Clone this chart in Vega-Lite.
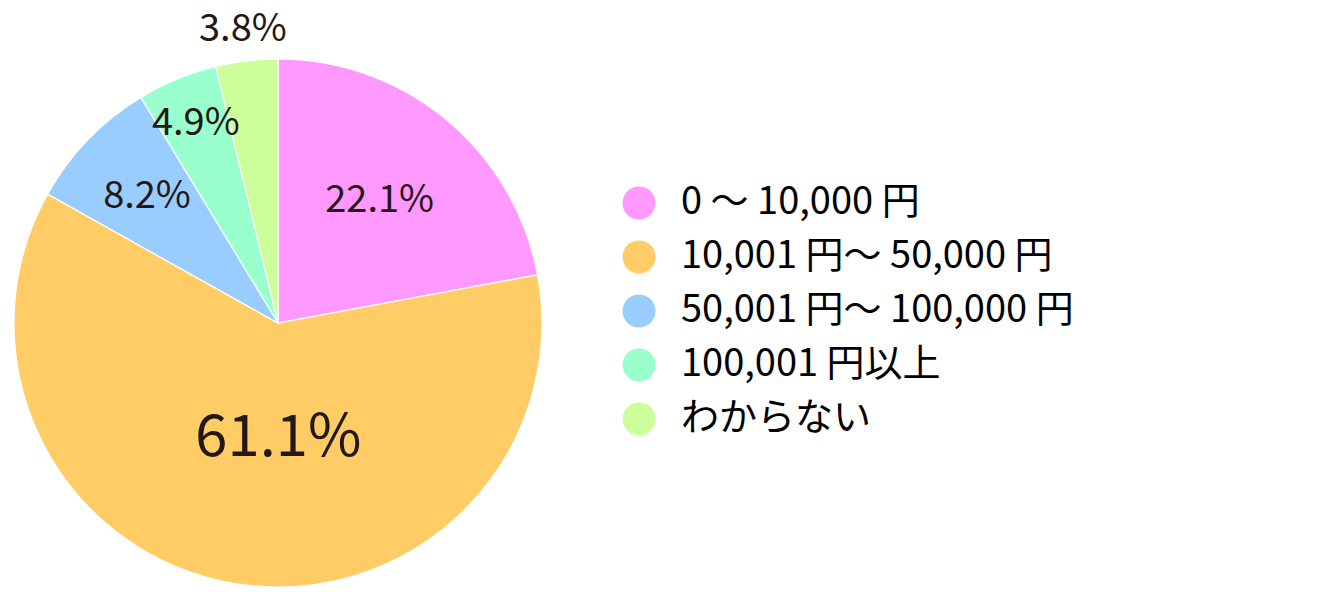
{
  "$schema": "https://vega.github.io/schema/vega-lite/v6.json",
  "width": 556,
  "height": 592,
  "autosize": {"type": "none"},
  "padding": {"left": 0, "top": 27, "right": 761, "bottom": 0},
  "background": "white",
  "data": {
    "values": [
      {"idx": 1, "category": "0 〜 10,000 円", "value": 22.1},
      {"idx": 2, "category": "10,001 円〜 50,000 円", "value": 61.1},
      {"idx": 3, "category": "50,001 円〜 100,000 円", "value": 8.2},
      {"idx": 4, "category": "100,001 円以上", "value": 4.9},
      {"idx": 5, "category": "わからない", "value": 3.8}
    ]
  },
  "transform": [
    {"calculate": "format(datum.value, '.1f') + '%'", "as": "label"}
  ],
  "encoding": {
    "theta": {"field": "value", "type": "quantitative", "stack": true},
    "order": {"field": "idx", "type": "quantitative"}
  },
  "layer": [
    {
      "mark": {"type": "arc", "radius": 264, "stroke": "white", "strokeWidth": 1.2},
      "encoding": {
        "color": {
          "field": "category",
          "type": "nominal",
          "scale": {
            "domain": ["0 〜 10,000 円", "10,001 円〜 50,000 円", "50,001 円〜 100,000 円", "100,001 円以上", "わからない"],
            "range": ["#FF99FF", "#FFCC66", "#99CCFF", "#99FFCC", "#CCFF99"]
          },
          "legend": {
            "title": null,
            "orient": "none",
            "legendX": 620,
            "legendY": 157,
            "symbolType": "circle",
            "symbolSize": 1089,
            "symbolStrokeWidth": 0,
            "labelFont": "Noto Sans CJK JP",
            "labelFontSize": 38,
            "labelColor": "#000000",
            "labelOffset": 23,
            "labelLimit": 600,
            "rowPadding": 16
          }
        }
      }
    },
    {
      "mark": {"type": "text", "radius": 159, "fontSize": 38, "font": "Noto Sans CJK JP", "color": "#231815"},
      "encoding": {"text": {"condition": {"test": "datum.idx === 1", "field": "label"}, "value": ""}}
    },
    {
      "mark": {"type": "text", "radius": 115, "dx": 19, "dy": 3, "fontSize": 58, "font": "Noto Sans CJK JP", "color": "#231815"},
      "encoding": {"text": {"condition": {"test": "datum.idx === 2", "field": "label"}, "value": ""}}
    },
    {
      "mark": {"type": "text", "radius": 182, "fontSize": 38, "font": "Noto Sans CJK JP", "color": "#231815"},
      "encoding": {"text": {"condition": {"test": "datum.idx === 3", "field": "label"}, "value": ""}}
    },
    {
      "mark": {"type": "text", "radius": 215, "fontSize": 38, "font": "Noto Sans CJK JP", "color": "#231815"},
      "encoding": {"text": {"condition": {"test": "datum.idx === 4", "field": "label"}, "value": ""}}
    },
    {
      "mark": {"type": "text", "radius": 295, "fontSize": 38, "font": "Noto Sans CJK JP", "color": "#231815"},
      "encoding": {"text": {"condition": {"test": "datum.idx === 5", "field": "label"}, "value": ""}}
    }
  ],
  "config": {"view": {"stroke": null}}
}
